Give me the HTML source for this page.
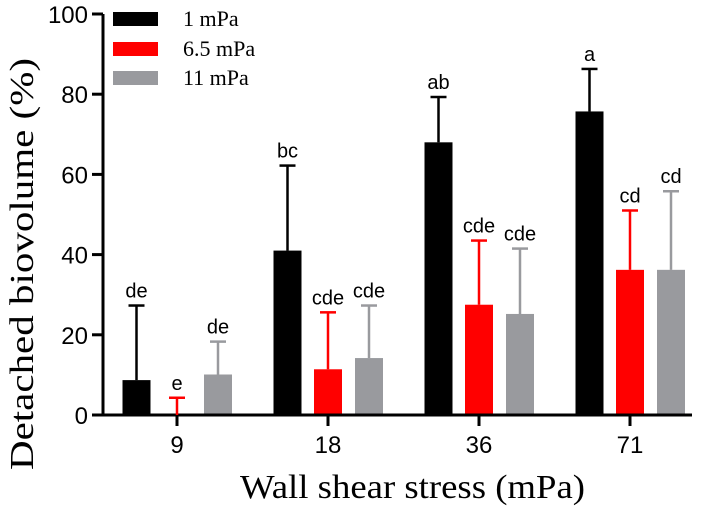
<!DOCTYPE html>
<html><head><style>body{margin:0;background:#fff}svg{display:block}</style></head>
<body>
<svg id="c" width="708" height="508" xmlns="http://www.w3.org/2000/svg"></svg>
<script>
const categories=["9","18","36","71"];
const seriesNames=["1 mPa","6.5 mPa","11 mPa"];
const colors=["#000000","#ff0000","#999a9e"];
const means1=[8.7,41,68,75.7];
const means2=[0,11.4,27.5,36.2];
const means3=[10.1,14.2,25.2,36.2];
const errTop1=[27.3,62.2,79.3,86.3];
const errTop2=[4.3,25.6,43.5,51];
const errTop3=[18.3,27.3,41.5,55.8];
const letters1=["de","bc","ab","a"];
const letters2=["e","cde","cde","cd"];
const letters3=["de","cde","cde","cd"];
const yTicks=[0,20,40,60,80,100];
const means=[means1,means2,means3],tops=[errTop1,errTop2,errTop3],lets=[letters1,letters2,letters3];
const svg=document.getElementById('c');const NS="http://www.w3.org/2000/svg";
function el(t,a,txt){const e=document.createElementNS(NS,t);for(const k in a)e.setAttribute(k,a[k]);if(txt!==undefined)e.textContent=txt;svg.appendChild(e);return e;}
const y=v=>415-v*4.01;
const x=i=>177+i*151;
const offs=[-40.5,0,41];const bw=28;
let e=el('line',{x1:103,y1:y(0),x2:103,y2:y(100),stroke:'#000','stroke-width':3});


e=el('line',{x1:92,y1:y(0),x2:692,y2:y(0),stroke:'#000','stroke-width':3});


yTicks.forEach(t=>{
 el('line',{x1:92,y1:y(t),x2:103,y2:y(t),stroke:'#000','stroke-width':3});
 e=el('text',{x:88,y:y(t)+9,'text-anchor':'end','font-family':'Liberation Sans, sans-serif','font-size':24},String(t));
 
 
});
categories.forEach((c,i)=>{
 el('line',{x1:x(i),y1:y(0),x2:x(i),y2:y(0)+11,stroke:'#000','stroke-width':3});
 e=el('text',{x:x(i),y:453,'text-anchor':'middle','font-family':'Liberation Sans, sans-serif','font-size':24},c);
 
 
 for(let s=0;s<3;s++){
  const cx=x(i)+offs[s],m=means[s][i],tp=tops[s][i];
  e=el('line',{x1:cx,y1:y(m),x2:cx,y2:y(tp),stroke:colors[s],'stroke-width':2.5});
  
  
  el('line',{x1:cx-8,y1:y(tp),x2:cx+8,y2:y(tp),stroke:colors[s],'stroke-width':2.5});
  if(m>0){e=el('rect',{x:cx-bw/2,y:y(m),width:bw,height:y(0)-y(m)-1.5,fill:colors[s]});
  
  }
  e=el('text',{x:cx,y:y(tp)-8,'text-anchor':'middle','font-family':'Liberation Sans, sans-serif','font-size':20},lets[s][i]);
  
  
 }
});
seriesNames.forEach((n,s)=>{
 const ly=[19,49,78][s];
 e=el('rect',{x:113,y:ly-7,width:45,height:14,fill:colors[s]});
 
 
 e=el('text',{x:183,y:ly+7,'font-family':'Liberation Serif, serif','font-size':22},n);
 
 
});
e=el('text',{x:240,y:498,textLength:345,lengthAdjust:'spacingAndGlyphs','font-family':'Liberation Serif, serif','font-size':34},'Wall shear stress (mPa)');


e=el('text',{x:0,y:0,transform:'translate(33,470) rotate(-90)',textLength:412,lengthAdjust:'spacingAndGlyphs','font-family':'Liberation Serif, serif','font-size':34},'Detached biovolume (%)');


</script>
</body></html>
